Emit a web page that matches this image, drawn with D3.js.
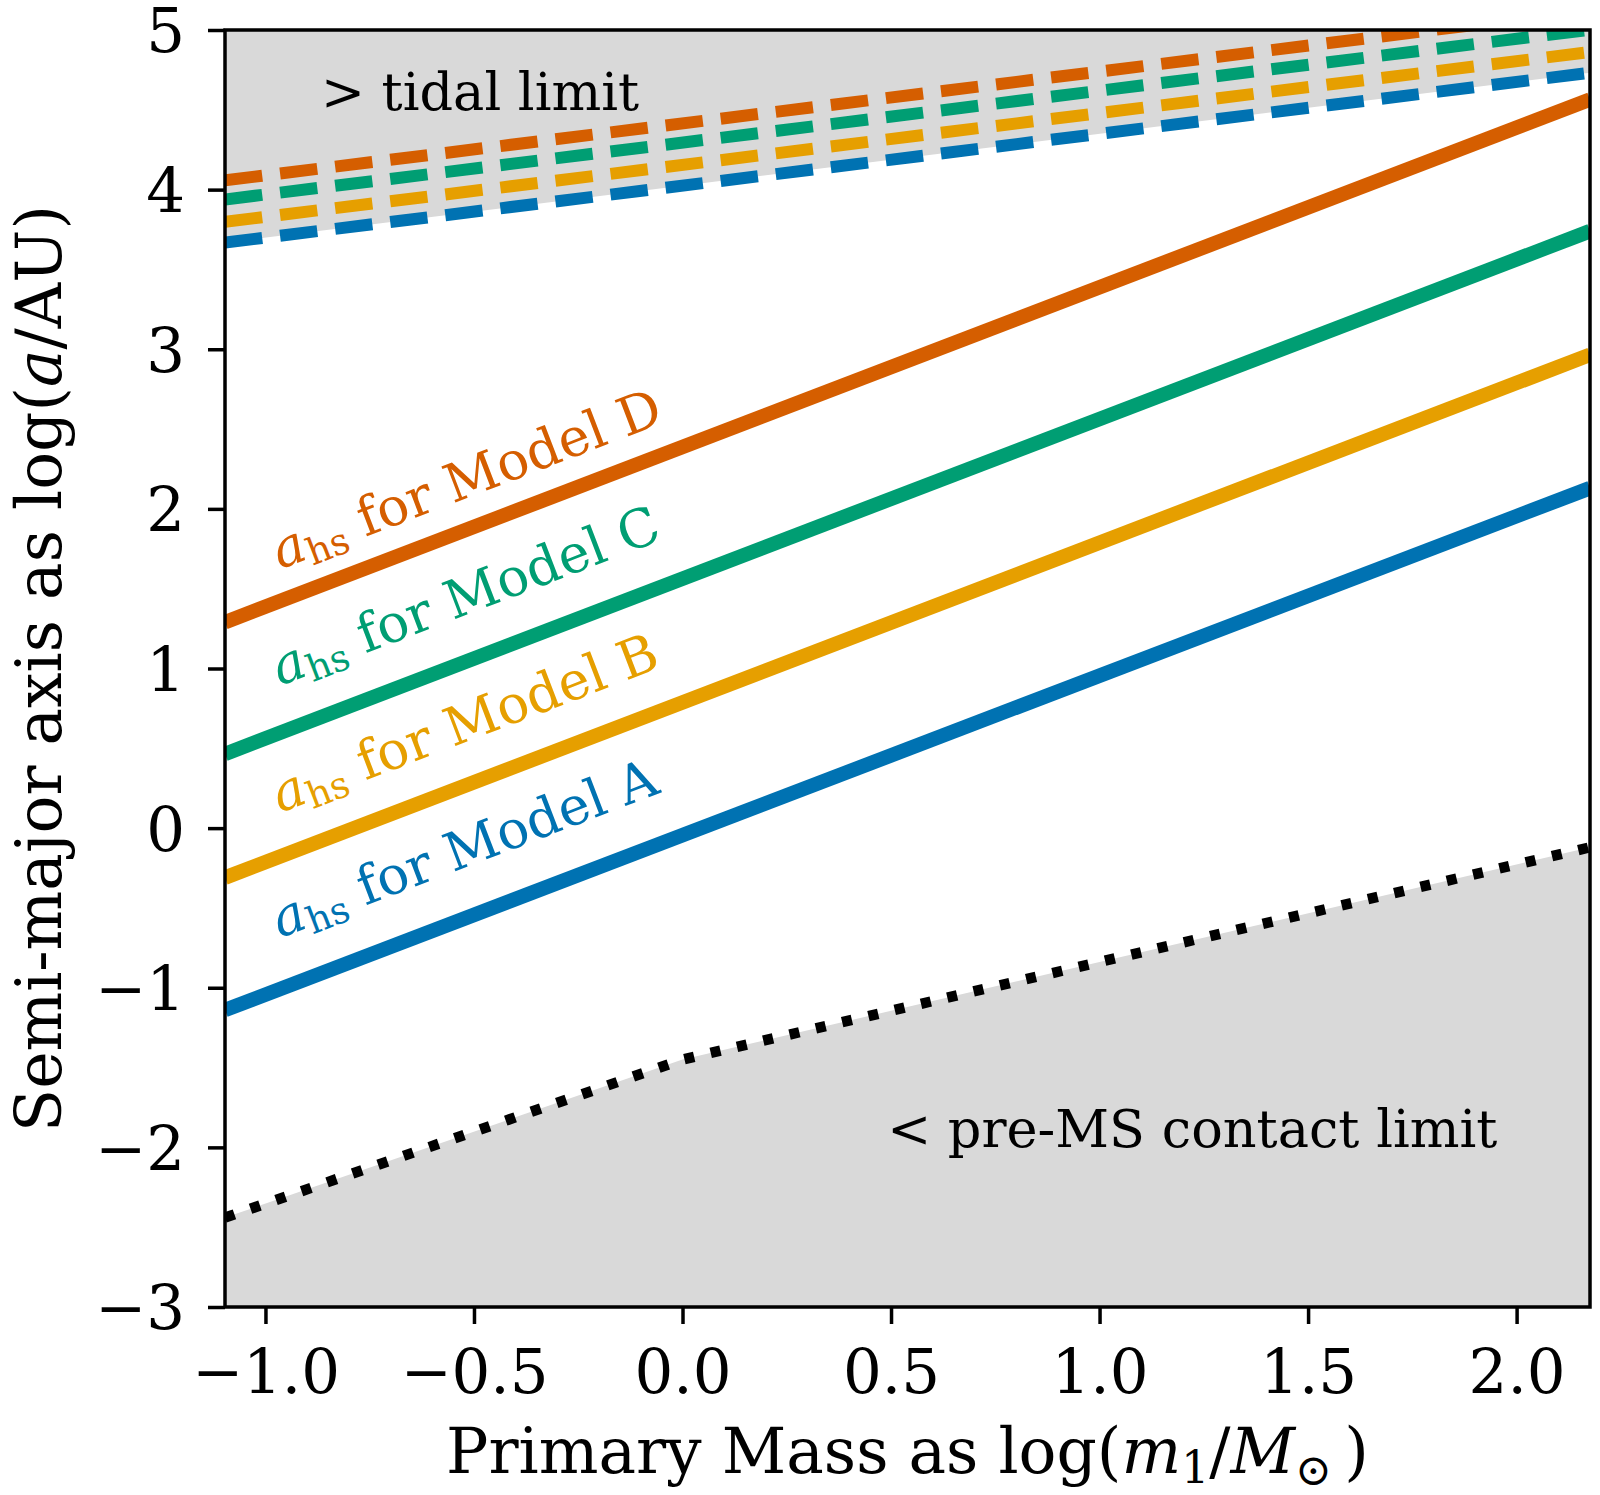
<!DOCTYPE html>
<html>
<head>
<meta charset="utf-8">
<script src="https://cdn.jsdelivr.net/npm/d3@7/dist/d3.min.js"></script>
<style>
  html, body { margin: 0; padding: 0; background: #fff; }
  svg { display: block; }
  text { font-family: "DejaVu Serif", serif; }
</style>
</head>
<body>
<svg id="chart" width="1600" height="1495"></svg>
<script>
// ---------------- data ----------------
const massDomain = [-1.097, 2.176];          // log(m1/Msun) extent
const aDomain = [-3, 5];                      // log(a/AU) extent
const models = ["A", "B", "C", "D"];
const hardSoftLeft  = [-1.14, -0.31, 0.465, 1.29];   // a_hs at left edge
const hardSoftRight = [2.13, 2.965, 3.74, 4.565];    // a_hs at right edge
const tidalLeft  = [3.668, 3.798, 3.938, 4.058];     // tidal limit at left edge
const tidalRight = [4.732, 4.862, 5.002, 5.122];     // tidal limit at right edge
const contactMass = [-1.097, 0.0, 2.176];
const contactA    = [-2.44, -1.45, -0.12];
const xTicks = [-1.0, -0.5, 0.0, 0.5, 1.0, 1.5, 2.0];
const yTicks = [-3, -2, -1, 0, 1, 2, 3, 4, 5];

// ---------------- styles / layout ----------------
const modelColors = { A: "#0072B2", B: "#E69F00", C: "#009E73", D: "#D55E00" };
const labelAnchor = { x: -0.965, y: { A: -0.69, B: 0.094, C: 0.89, D: 1.62 } };
const fill = "#d9d9d9";
const M = { left: 225, right: 1590, top: 30, bottom: 1307 };

const svg = d3.select("#chart");
const x = d3.scaleLinear().domain(massDomain).range([M.left, M.right]);
const y = d3.scaleLinear().domain(aDomain).range([M.bottom, M.top]);

svg.append("defs").append("clipPath").attr("id", "plotclip")
  .append("rect").attr("x", M.left).attr("y", M.top)
  .attr("width", M.right - M.left).attr("height", M.bottom - M.top);

const plot = svg.append("g").attr("clip-path", "url(#plotclip)");

// tidal-limit shaded region (above lowest tidal limit = model A)
const tidalArea = d3.area().x(d => x(d[0])).y0(y(aDomain[1])).y1(d => y(d[1]));
plot.append("path")
  .datum([[massDomain[0], tidalLeft[0]], [massDomain[1], tidalRight[0]]])
  .attr("d", tidalArea).attr("fill", fill);

// contact-limit shaded region
const contactPts = contactMass.map((m, i) => [m, contactA[i]]);
const contactArea = d3.area().x(d => x(d[0])).y0(y(aDomain[0])).y1(d => y(d[1]));
plot.append("path").datum(contactPts).attr("d", contactArea).attr("fill", fill);

const line = d3.line().x(d => x(d[0])).y(d => y(d[1]));

// hard-soft boundaries
models.forEach((m, i) => {
  plot.append("path")
    .datum([[massDomain[0], hardSoftLeft[i]], [massDomain[1], hardSoftRight[i]]])
    .attr("d", line).attr("fill", "none")
    .attr("stroke", modelColors[m]).attr("stroke-width", 14.5);
});

// tidal limits (dashed)
models.forEach((m, i) => {
  plot.append("path")
    .datum([[massDomain[0], tidalLeft[i]], [massDomain[1], tidalRight[i]]])
    .attr("d", line).attr("fill", "none")
    .attr("stroke", modelColors[m]).attr("stroke-width", 12)
    .attr("stroke-dasharray", "37.5,18");
});

// pre-MS contact limit (dotted)
plot.append("path").datum(contactPts).attr("d", line)
  .attr("fill", "none").attr("stroke", "#000").attr("stroke-width", 10.5)
  .attr("stroke-dasharray", "10,17");

// model labels
const slopePx = (y(0) - y(1)) / (x(1) - x(0));
const angle = Math.atan(slopePx) * 180 / Math.PI;
models.forEach(m => {
  const t = svg.append("text")
    .attr("transform", `translate(${x(labelAnchor.x)},${y(labelAnchor.y[m])}) rotate(${-angle})`)
    .attr("font-size", 53).attr("fill", modelColors[m]);
  t.append("tspan").attr("font-style", "italic").text("a");
  t.append("tspan").attr("font-size", 37).attr("dy", 8).text("hs");
  t.append("tspan").attr("dy", -8).text(" for Model " + m);
});

// region labels
svg.append("text").attr("x", x(-0.867)).attr("y", y(4.5))
  .attr("font-size", 52.5).attr("fill", "#000").text("> tidal limit");
svg.append("text").attr("x", x(1.954)).attr("y", y(-2.0))
  .attr("text-anchor", "end")
  .attr("font-size", 52.5).attr("fill", "#000").text("< pre-MS contact limit");

// axes
const xAxis = d3.axisBottom(x).tickValues(xTicks).tickFormat(d3.format(".1f"))
  .tickSize(17).tickSizeOuter(0);
const gx = svg.append("g").attr("transform", `translate(0,${M.bottom})`).call(xAxis);
gx.select(".domain").remove();
gx.selectAll(".tick line").attr("stroke", "#000").attr("stroke-width", 3.5);
gx.selectAll(".tick text").attr("y", 86).attr("dy", null)
  .attr("font-size", 61).attr("font-family", "DejaVu Serif").attr("fill", "#000");

const yAxis = d3.axisLeft(y).tickValues(yTicks).tickFormat(d3.format("d"))
  .tickSize(17).tickPadding(23).tickSizeOuter(0);
const gy = svg.append("g").attr("transform", `translate(${M.left},0)`).call(yAxis);
gy.select(".domain").remove();
gy.selectAll(".tick line").attr("stroke", "#000").attr("stroke-width", 3.5);
gy.selectAll(".tick text").attr("dy", "0.36em")
  .attr("font-size", 61).attr("font-family", "DejaVu Serif").attr("fill", "#000");

// frame
svg.append("rect").attr("x", M.left).attr("y", M.top)
  .attr("width", M.right - M.left).attr("height", M.bottom - M.top)
  .attr("fill", "none").attr("stroke", "#000").attr("stroke-width", 3.5);

// axis labels
const xl = svg.append("text").attr("x", (M.left + M.right) / 2).attr("y", 1473)
  .attr("text-anchor", "middle").attr("font-size", 63).attr("fill", "#000");
xl.append("tspan").text("Primary Mass as log(");
xl.append("tspan").attr("font-style", "italic").text("m");
xl.append("tspan").attr("font-size", 44).attr("dy", 10).text("1");
xl.append("tspan").attr("dy", -10).text("/");
xl.append("tspan").attr("font-style", "italic").text("M");
xl.append("tspan").attr("font-size", 44).attr("dy", 12).text("\u2299");
xl.append("tspan").attr("dy", -12).text("\u2009)");

const yl = svg.append("text")
  .attr("transform", `translate(61,${(M.top + M.bottom) / 2}) rotate(-90)`)
  .attr("text-anchor", "middle").attr("font-size", 63).attr("fill", "#000");
yl.append("tspan").text("Semi-major axis as log(");
yl.append("tspan").attr("font-style", "italic").text("a");
yl.append("tspan").text("/AU)");
</script>
</body>
</html>
